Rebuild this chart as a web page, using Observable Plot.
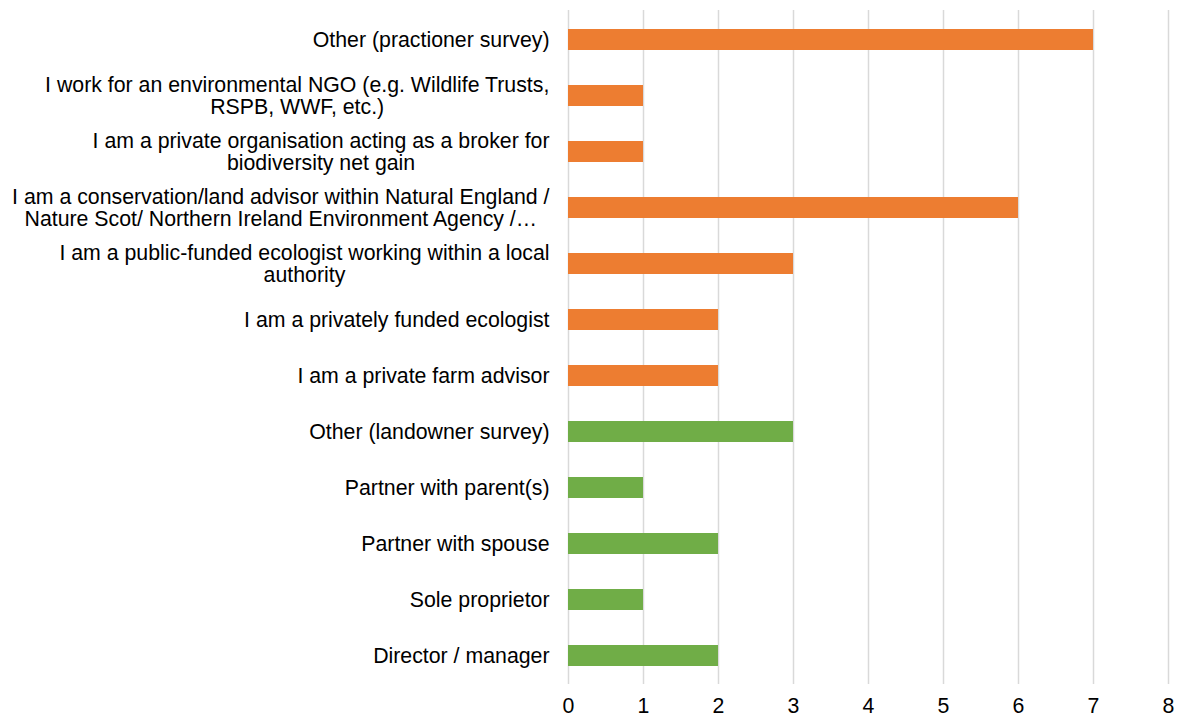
<!DOCTYPE html>
<html>
<head>
<meta charset="utf-8">
<script src="https://cdn.jsdelivr.net/npm/d3@7"></script>
<script src="https://cdn.jsdelivr.net/npm/@observablehq/plot@0.6"></script>
<style>
  html, body { margin: 0; padding: 0; background: #fff; }
  #chart { width: 1179px; height: 718px; }
</style>
</head>
<body>
<div id="chart"></div>
<script>
// Categories, top to bottom, with wrapped display labels
const categories = [
  "Other (practioner survey)",
  "I work for an environmental NGO (e.g. Wildlife Trusts, RSPB, WWF, etc.)",
  "I am a private organisation acting as a broker for biodiversity net gain",
  "I am a conservation/land advisor within Natural England / Nature Scot/ Northern Ireland Environment Agency /…",
  "I am a public-funded ecologist working within a local authority",
  "I am a privately funded ecologist",
  "I am a private farm advisor",
  "Other (landowner survey)",
  "Partner with parent(s)",
  "Partner with spouse",
  "Sole proprietor",
  "Director / manager"
];
const labels = [
  "Other (practioner survey)",
  "I work for an environmental NGO (e.g. Wildlife Trusts,\nRSPB, WWF, etc.)",
  "I am a private organisation acting as a broker for\nbiodiversity net gain",
  "I am a conservation/land advisor within Natural England /\nNature Scot/ Northern Ireland Environment Agency /…",
  "I am a public-funded ecologist working within a local\nauthority",
  "I am a privately funded ecologist",
  "I am a private farm advisor",
  "Other (landowner survey)",
  "Partner with parent(s)",
  "Partner with spouse",
  "Sole proprietor",
  "Director / manager"
];
const counts = [7, 1, 1, 6, 3, 2, 2, 3, 1, 2, 1, 2];
const surveys = ["Practitioner", "Practitioner", "Practitioner", "Practitioner", "Practitioner", "Practitioner", "Practitioner",
                 "Landowner", "Landowner", "Landowner", "Landowner", "Landowner"];
const xTicks = [0, 1, 2, 3, 4, 5, 6, 7, 8];

const data = categories.map((c, i) => ({category: c, label: labels[i], count: counts[i], survey: surveys[i]}));

const FONT_SIZE = 21.3;
const FONT = `${FONT_SIZE}px 'Liberation Sans', Arial, sans-serif`;
const canvas = document.createElement("canvas");
const ctx = canvas.getContext("2d");
ctx.font = FONT;
function blockWidth(s) {
  return Math.max(...s.split("\n").map(l => ctx.measureText(l).width));
}

const labelMarks = data.map(d => Plot.text([d], {
  x: () => 0,
  y: "category",
  text: "label",
  textAnchor: "middle",
  lineAnchor: "middle",
  lineHeight: 1.04,
  dx: -(19 + blockWidth(d.label) / 2),
  fill: "#000",
  fontSize: FONT_SIZE
}));

const chart = Plot.plot({
  width: 1179,
  height: 718,
  marginLeft: 568,
  marginRight: 11,
  marginTop: 10,
  marginBottom: 34,
  style: {fontFamily: "'Liberation Sans', Arial, sans-serif", fontSize: `${FONT_SIZE}px`, color: "#000", background: "#fff"},
  x: {domain: [0, 8], ticks: xTicks, tickSize: 0, tickPadding: 13, label: null, tickFormat: d => String(d)},
  y: {domain: categories, paddingInner: 0.63, paddingOuter: 0.315, axis: null},
  color: {domain: ["Practitioner", "Landowner"], range: ["#ED7D31", "#70AD47"]},
  marks: [
    Plot.ruleX(xTicks, {stroke: "#d9d9d9", strokeWidth: 1.5}),
    Plot.barX(data, {x: "count", y: "category", fill: "survey"}),
    ...labelMarks
  ]
});
document.getElementById("chart").appendChild(chart);
</script>
</body>
</html>
